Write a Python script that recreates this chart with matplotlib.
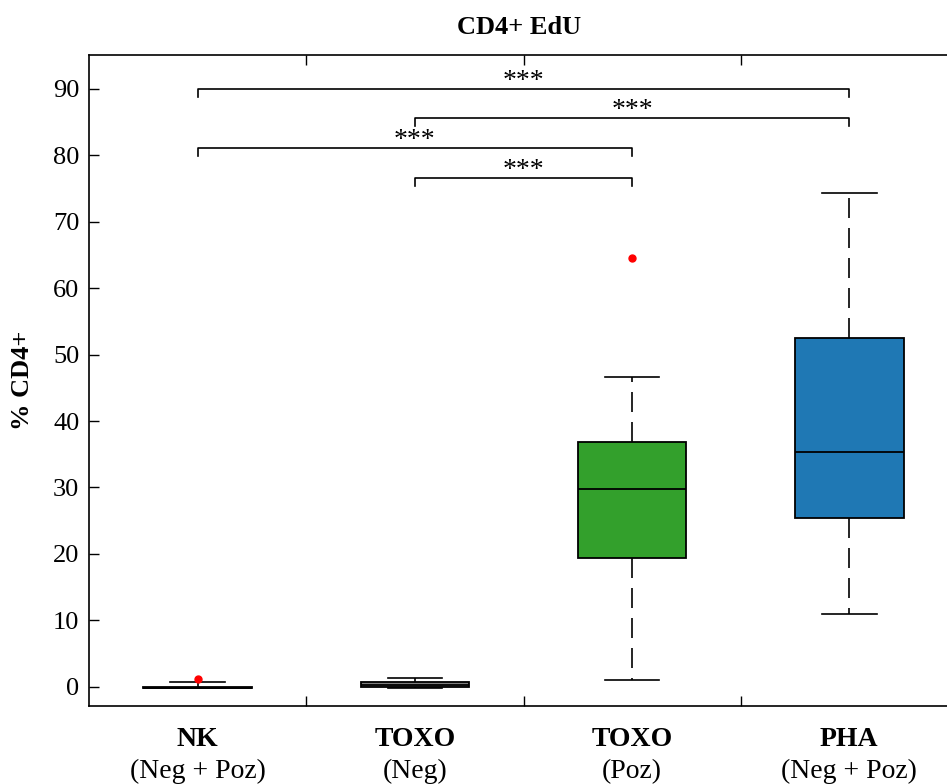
import matplotlib
matplotlib.use("Agg")
import matplotlib.pyplot as plt
from matplotlib.transforms import blended_transform_factory

# Group names and sub-labels
group_names = ["NK", "TOXO", "TOXO", "PHA"]
group_subs = ["(Neg + Poz)", "(Neg)", "(Poz)", "(Neg + Poz)"]

# Box statistics per group (% CD4+)
medians = [-0.15, 0.25, 29.7, 35.4]
q1_vals = [-0.25, 0.0, 19.4, 25.4]
q3_vals = [-0.05, 0.7, 36.9, 52.5]
whisker_low = [-0.25, -0.2, 1.0, 11.0]
whisker_high = [0.7, 1.3, 46.6, 74.3]
outliers = [[1.2], [], [64.5], []]
box_colors = ["#7f7f7f", "#7f7f7f", "#33a02c", "#1f78b4"]

# Significance brackets: (group a, group b, height, label)
bracket_pairs = [(1, 4), (2, 4), (1, 3), (2, 3)]
bracket_heights = [90.0, 85.6, 81.1, 76.6]
bracket_labels = ["***", "***", "***", "***"]

yticks = [0, 10, 20, 30, 40, 50, 60, 70, 80, 90]

serif = ["Liberation Serif", "DejaVu Serif"]
plt.rcParams["font.family"] = serif

W, H = 947, 784
fig = plt.figure(figsize=(W / 100, H / 100), dpi=100)
ax = fig.add_axes([89 / W, 1 - 706 / H, (958 - 89) / W, (706 - 55) / H])

stats = []
for i in range(len(group_names)):
    stats.append(dict(med=medians[i], q1=q1_vals[i], q3=q3_vals[i],
                      whislo=whisker_low[i], whishi=whisker_high[i],
                      fliers=outliers[i]))

positions = list(range(1, len(group_names) + 1))
bp = ax.bxp(stats, positions=positions, widths=0.5, patch_artist=True,
            showfliers=True,
            boxprops=dict(edgecolor="black", linewidth=1.3),
            medianprops=dict(color="black", linewidth=1.3),
            whiskerprops=dict(color="black", linewidth=1.2, linestyle=(0, (12, 6))),
            capprops=dict(color="black", linewidth=1.2),
            flierprops=dict(marker="o", markersize=5, markerfacecolor="red",
                            markeredgecolor="red"),
            capwidths=0.25)
for patch, c in zip(bp["boxes"], box_colors):
    patch.set_facecolor(c)

# Significance brackets
drop = 1.2
for (a, b), h, lab in zip(bracket_pairs, bracket_heights, bracket_labels):
    ax.plot([a, a, b, b], [h - drop, h, h, h - drop], color="black", linewidth=1.2)
    ax.text((a + b) / 2, h + 0.15, lab, ha="center", va="baseline", fontsize=20)

ax.set_xlim(0.5, 4.5)
ax.set_ylim(-2.9, 95.1)
ax.set_yticks(yticks)
ax.set_yticklabels([str(v) for v in yticks], fontsize=19)
ax.set_xticks([1.5, 2.5, 3.5])
ax.set_xticklabels([])
ax.tick_params(direction="in", length=7, width=1, top=True, right=True, pad=7)
for s in ax.spines.values():
    s.set_linewidth(1.2)

trans = blended_transform_factory(ax.transData, ax.transAxes)
for x, name, sub in zip(positions, group_names, group_subs):
    ax.annotate(name, xy=(x, 0), xycoords=trans, xytext=(0, -24),
                textcoords="offset points", ha="center", va="center",
                fontsize=20, fontweight="bold")
    ax.annotate(sub, xy=(x, 0), xycoords=trans, xytext=(0, -47),
                textcoords="offset points", ha="center", va="center",
                fontsize=20)

ax.set_ylabel("% CD4+", fontsize=19, fontweight="bold")
ax.yaxis.set_label_coords(-55 / 869, 0.5)
fig.text(519 / W, 1 - 28 / H, "CD4+ EdU", ha="center", va="center",
         fontsize=19, fontweight="bold")

fig.savefig("out.png", dpi=100)
